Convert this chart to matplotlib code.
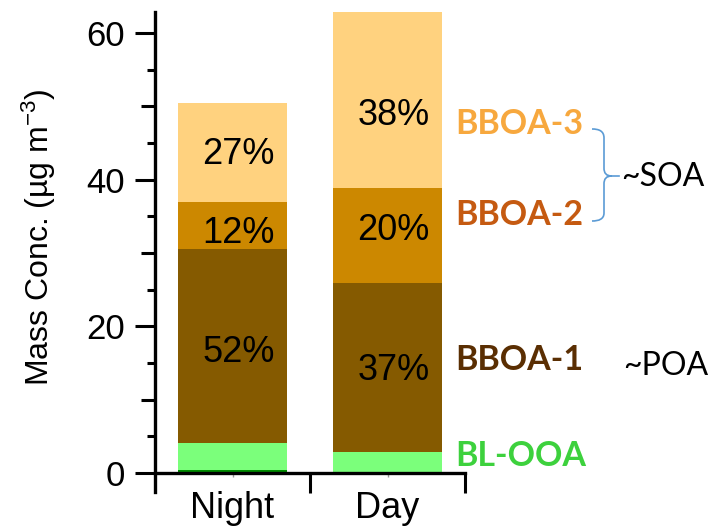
import matplotlib
matplotlib.use('Agg')
import matplotlib.pyplot as plt
from matplotlib.path import Path
from matplotlib.patches import PathPatch
import numpy as np

# ---- data ----
categories = ['Night', 'Day']
other_green = [0.4, 0.2]
bl_ooa = [3.7, 2.7]
bboa1 = [26.4, 23.05]
bboa2 = [6.5, 12.95]
bboa3 = [13.5, 24.0]
pct_bboa3 = ['27%', '38%']
pct_bboa2 = ['12%', '20%']
pct_bboa1 = ['52%', '37%']
pct_y3 = [43.5, 48.7]
pct_y2 = [32.6, 33.1]
pct_y1 = [16.4, 14.0]
yticks = [0, 20, 40, 60]

series = [other_green, bl_ooa, bboa1, bboa2, bboa3]
colors = ['#008C00', '#7BFF7B', '#855A00', '#CC8800', '#FFD27F']

plt.rcParams['mathtext.fontset'] = 'custom'
plt.rcParams['mathtext.rm'] = 'Liberation Sans'
plt.rcParams['mathtext.it'] = 'Liberation Sans'
plt.rcParams['font.family'] = ['Liberation Sans', 'DejaVu Sans']

W, H = 713, 526
fig = plt.figure(figsize=(W / 100, H / 100), dpi=100)
ax = fig.add_axes([155 / W, 34 / H, 310 / W, 480 / H])

x = np.arange(len(categories))
bottom = np.zeros(len(categories))
for vals, c in zip(series, colors):
    ax.bar(x, vals, width=0.70, bottom=bottom, color=c, edgecolor='none', zorder=1)
    bottom = bottom + np.array(vals)

ax.set_xlim(-0.5, 1.5)
ax.set_ylim(-2.59, 62.87)

for s in ['top', 'right']:
    ax.spines[s].set_visible(False)
ax.spines['bottom'].set_position(('data', 0))
for s in ['left', 'bottom']:
    ax.spines[s].set_linewidth(2.4)
    ax.spines[s].set_zorder(3)

# y ticks
ax.set_yticks(yticks)
ax.set_yticks(np.arange(5, 61, 10), minor=True)
ax.tick_params(axis='y', which='major', length=14.4, width=2.2, labelsize=25, pad=7, direction='out')
ax.tick_params(axis='y', which='minor', length=6, width=2.2, direction='out')
sec = ax.secondary_yaxis('left')
sec.spines['left'].set_visible(False)
sec.set_yticks([10, 30, 50])
sec.tick_params(axis='y', length=10, width=2.2, labelleft=False, direction='out')

# x ticks
ax.set_xticks(x)
ax.set_xticklabels(categories)
ax.set_xticks([0.5, 1.5], minor=True)
ax.tick_params(axis='x', which='major', length=3, width=1, color='#999999', labelsize=26, pad=10)
ax.tick_params(axis='x', which='minor', length=14.4, width=2.2, direction='out')

# percent labels
for i in range(len(categories)):
    for lab, yy in ((pct_bboa3, pct_y3), (pct_bboa2, pct_y2), (pct_bboa1, pct_y1)):
        ax.text(x[i] + 0.04, yy[i], lab[i], ha='center', va='center', fontsize=26, color='black', zorder=4)

# y label
fig.text(39 / W, 1 - 237 / H, 'Mass Conc. (\u00b5g m$^{-3}$)', rotation=90,
         ha='center', va='center', fontsize=23)

def fp(px, py):
    return (px / W, 1 - py / H)

# right-side labels
lab_font = ['Lato', 'DejaVu Sans']
fig.text(*fp(455, 124), 'BBOA-3', color='#F7A83E', fontsize=24.5, fontweight='bold', family=lab_font, ha='left', va='center')
fig.text(*fp(455, 215), 'BBOA-2', color='#C55A11', fontsize=24.5, fontweight='bold', family=lab_font, ha='left', va='center')
fig.text(*fp(455, 360), 'BBOA-1', color='#5A2E02', fontsize=24.5, fontweight='bold', family=lab_font, ha='left', va='center')
fig.text(*fp(455, 456), 'BL-OOA', color='#3DD13D', fontsize=24.5, fontweight='bold', family=lab_font, ha='left', va='center')
fig.text(*fp(621, 177), '~SOA', color='black', fontsize=23, family=lab_font, ha='left', va='center')
fig.text(*fp(623, 366), '~POA', color='black', fontsize=23, family=lab_font, ha='left', va='center')

# bracket
pts = [(592, 129), (599, 129), (604, 131), (604, 138),
       (604, 168), (604, 173), (606, 176), (612, 176),
       (606, 176), (604, 179), (604, 184),
       (604, 213), (604, 219), (599, 221), (592, 221)]
codes = [Path.MOVETO, Path.CURVE4, Path.CURVE4, Path.CURVE4,
         Path.LINETO, Path.CURVE4, Path.CURVE4, Path.CURVE4,
         Path.CURVE4, Path.CURVE4, Path.CURVE4,
         Path.LINETO, Path.CURVE4, Path.CURVE4, Path.CURVE4]
path = Path([fp(*p) for p in pts], codes)
fig.add_artist(PathPatch(path, transform=fig.transFigure, facecolor='none', edgecolor='#5B9BD5', lw=1.2))
fig.add_artist(plt.Line2D([fp(612, 176)[0], fp(619, 176)[0]], [fp(612, 176)[1]] * 2,
                          transform=fig.transFigure, color='#5B9BD5', lw=1.2))

fig.savefig('out.png', dpi=100)
